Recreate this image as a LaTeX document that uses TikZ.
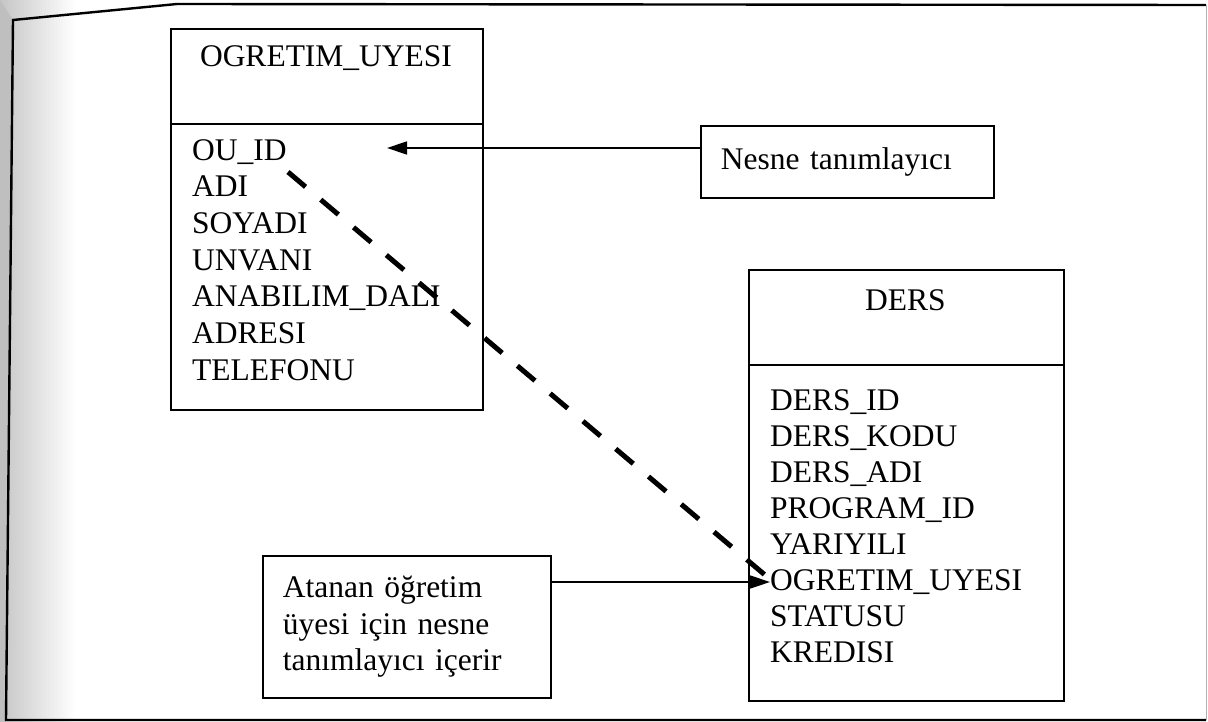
\documentclass[tikz,border=0pt]{standalone}
\usepackage{fontspec}
\setmainfont{Liberation Serif}
\usetikzlibrary{arrows.meta}
\begin{document}
\begin{tikzpicture}[x=1pt,y=-1pt,
  every node/.style={font=\fontsize{31.5}{36.5}\selectfont},
  tbox/.style={draw, line width=1.6pt, rectangle, inner sep=0pt, anchor=north west},
  attr/.style={inner sep=0pt, anchor=base west},
  note/.style={draw, line width=1.6pt, rectangle, inner xsep=20pt, inner ysep=0pt,
               align=left, anchor=north west},
  link/.style={line width=1.4pt, -{Triangle[length=20pt,width=13pt]}},
  refline/.style={line width=5pt, dash pattern=on 23pt off 19.9pt}]

% page and the greyish left margin of the sheet
\useasboundingbox (0,0) rectangle (1208,722);
\fill[white] (0,0) rectangle (1208,722);
\shade[left color=gray!45, right color=white] (0,0) rectangle (75,722);
\fill[gray!50] (0,0) -- (13,20) -- (6,722) -- (0,722) -- cycle;

% outer frame
\draw[line width=2.4pt] (1206,5) -- (177,4) -- (13,20) -- (6,720) -- (1206,720);
\draw[gray!60, line width=1pt] (1206,5) -- (1206,720);

% class OGRETIM_UYESI
\node[tbox, minimum width=312pt, minimum height=95pt] (ouhead) at (170,28) {};
\node[tbox, minimum width=312pt, minimum height=286pt] (oubody) at (170,123) {};
\node (outitle) at (326,58) {OGRETIM\_UYESI};
\foreach \t [count=\i] in {OU\_ID,ADI,SOYADI,UNVANI,ANABILIM\_DALI,ADRESI,TELEFONU}
  \node[attr] (ou\i) at (192,{160.4+36.6*(\i-1)}) {\t};

% class DERS
\node[tbox, minimum width=315pt, minimum height=95pt] (dhead) at (748,269) {};
\node[tbox, minimum width=315pt, minimum height=336pt] (dbody) at (748,364) {};
\node (dtitle) at (905.5,300) {DERS};
\foreach \t [count=\i] in {DERS\_ID,DERS\_KODU,DERS\_ADI,PROGRAM\_ID,YARIYILI,OGRETIM\_UYESI,STATUSU,KREDISI}
  \node[attr] (dattr\i) at (770,{410.4+36*(\i-1)}) {\t};

% explanatory notes
\node[note, minimum width=293pt, minimum height=72pt, text width=253pt] (nesne) at (700,125)
  {Nesne tanımlayıcı};
\node[note, minimum width=288pt, minimum height=142pt, text width=248pt] (atanan) at (262,555)
  {Atanan öğretim\\üyesi için nesne\\tanımlayıcı içerir};

% connectors
\coordinate (outip) at (387,148);
\draw[link] (nesne.west |- outip) -- (outip);
\draw[link] (atanan.east |- dattr6.west) -- (dattr6.west);

\coordinate (reffrom) at (288,172);
\coordinate (refto) at (765,575);
\draw[refline] (reffrom) -- (refto);
\end{tikzpicture}
\end{document}
